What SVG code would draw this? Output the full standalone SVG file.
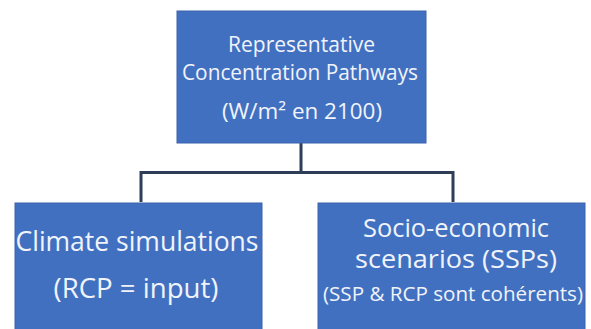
<svg xmlns="http://www.w3.org/2000/svg" width="591" height="329" viewBox="0 0 591 329">
<style>
.box{fill:#4270C1;stroke:#3A63AE;stroke-width:1}
.t{font-family:"Open Sans","Noto Sans","Liberation Sans",sans-serif;fill:#F0F4FA;text-anchor:middle}
.c{fill:none;stroke:#2E3D58;stroke-width:3}
</style>
<rect width="591" height="329" fill="#FFFFFF"/>
<g id="connectors">
<path class="c" d="M301,143 V172.5 M141,172.5 H453 M141,171 V202 M453,171 V202"/>
</g>
<g id="rcp">
<rect class="box" x="177" y="11" width="249" height="132"/>
<text class="t" x="301.5" y="52" font-size="21.5" textLength="147" lengthAdjust="spacingAndGlyphs">Representative</text>
<text class="t" x="300" y="80" font-size="21.5" textLength="236" lengthAdjust="spacingAndGlyphs">Concentration Pathways</text>
<text class="t" x="302" y="119" font-size="21.5" textLength="160" lengthAdjust="spacingAndGlyphs">(W/m² en 2100)</text>
</g>
<g id="climate">
<rect class="box" x="15" y="203" width="247" height="130"/>
<text class="t" x="137" y="251" font-size="27.5" textLength="243" lengthAdjust="spacingAndGlyphs">Climate simulations</text>
<text class="t" x="136" y="298" font-size="27.5" textLength="165" lengthAdjust="spacingAndGlyphs">(RCP = input)</text>
</g>
<g id="ssp">
<rect class="box" x="318" y="203" width="267" height="130"/>
<text class="t" x="456" y="237" font-size="26" textLength="186" lengthAdjust="spacingAndGlyphs">Socio-economic</text>
<text class="t" x="456" y="268" font-size="26" textLength="202" lengthAdjust="spacingAndGlyphs">scenarios (SSPs)</text>
<text class="t" x="453" y="301" font-size="19.5" textLength="260" lengthAdjust="spacingAndGlyphs">(SSP &amp; RCP sont cohérents)</text>
</g>
</svg>
